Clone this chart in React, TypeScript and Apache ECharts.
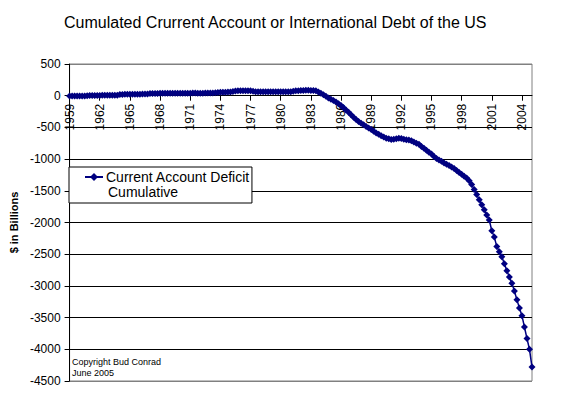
import React, { useEffect, useRef } from "react";
import * as echarts from "echarts";

// Quarterly categories, 1959 Q1 .. 2005 Q1
const years = [
  1959, 1960, 1961, 1962, 1963, 1964, 1965, 1966, 1967, 1968, 1969, 1970,
  1971, 1972, 1973, 1974, 1975, 1976, 1977, 1978, 1979, 1980, 1981, 1982,
  1983, 1984, 1985, 1986, 1987, 1988, 1989, 1990, 1991, 1992, 1993, 1994,
  1995, 1996, 1997, 1998, 1999, 2000, 2001, 2002, 2003, 2004, 2005,
];
const quartersPerYear = ["Q1", "Q2", "Q3", "Q4"];
const categories: string[] = [];
years.forEach((y) => {
  const qs = y === 2005 ? ["Q1"] : quartersPerYear;
  qs.forEach((q) => categories.push(`${y} ${q}`));
});

// Cumulative current account, $ billions
const cumulativeDeficit = [
  -6, -6, -5, -5, // 1959
  -4, -4, -3, -2, // 1960
  2, 3, 4, 5, // 1961
  5, 6, 6, 7, // 1962
  7, 8, 8, 9, // 1963
  18, 20, 21, 22, // 1964
  22, 23, 23, 24, // 1965
  24, 25, 25, 26, // 1966
  34, 35, 36, 36, // 1967
  37, 37, 38, 38, // 1968
  38, 38, 39, 39, // 1969
  39, 39, 40, 40, // 1970
  40, 41, 41, 40, // 1971
  40, 40, 41, 41, // 1972
  41, 42, 45, 50, // 1973
  53, 55, 56, 57, // 1974
  60, 68, 74, 78, // 1975
  79, 80, 79, 80, // 1976
  78, 70, 64, 62, // 1977
  62, 61, 61, 62, // 1978
  62, 62, 61, 62, // 1979
  62, 63, 62, 62, // 1980
  63, 72, 78, 80, // 1981
  82, 83, 84, 84, // 1982
  83, 82, 78, 60, // 1983
  40, 15, -10, -35, // 1984
  -55, -75, -100, -125, // 1985
  -155, -190, -225, -260, // 1986
  -300, -340, -375, -405, // 1987
  -435, -460, -485, -510, // 1988
  -535, -560, -590, -610, // 1989
  -630, -650, -670, -680, // 1990
  -690, -688, -680, -672, // 1991
  -675, -685, -695, -700, // 1992
  -710, -730, -750, -765, // 1993
  -800, -830, -860, -890, // 1994
  -920, -960, -990, -1014, // 1995
  -1035, -1060, -1080, -1100, // 1996
  -1125, -1150, -1180, -1210, // 1997
  -1240, -1270, -1300, -1340, // 1998
  -1400, -1480, -1560, -1640, // 1999
  -1720, -1800, -1880, -1960, // 2000
  -2130, -2230, -2380, -2460, // 2001
  -2540, -2650, -2760, -2860, // 2002
  -2960, -3080, -3220, -3350, // 2003
  -3470, -3650, -3830, -4000, // 2004
  -4280, // 2005
];

const yTicks = { min: -4500, max: 500, interval: 500 };
const seriesName = "Current Account Deficit Cumulative";
const titleText = "Cumulated Crurrent Account or International Debt of the US";
const yAxisName = "$ in Billions";
const copyrightLines = ["Copyright Bud Conrad", "June 2005"];

const FONT = "'Liberation Sans', Arial, sans-serif";

const GRID_TOP = 64;
const GRID_BOTTOM = 17;
const CHART_H = 398;

export default function App() {
  const ref = useRef<HTMLDivElement>(null);

  useEffect(() => {
    if (!ref.current) return;
    const chart = echarts.init(ref.current, undefined, { renderer: "svg" });
    const nLines = (yTicks.max - yTicks.min) / yTicks.interval + 1;
    const splitColors: string[] = [];
    for (let i = 0; i < nLines; i++) {
      splitColors.push(i === 0 || i === nLines - 1 ? "#808080" : "#000000");
    }
    // place the category axis on the zero line of the value axis
    const gridH = CHART_H - GRID_TOP - GRID_BOTTOM;
    const zeroOffset = -gridH * ((0 - yTicks.min) / (yTicks.max - yTicks.min));

    chart.setOption({
      animation: false,
      backgroundColor: "#ffffff",
      textStyle: { fontFamily: FONT },
      title: {
        text: titleText,
        left: 59,
        top: 9,
        textStyle: {
          fontFamily: FONT,
          fontSize: 16,
          fontWeight: "normal",
          color: "#000",
        },
      },
      grid: {
        left: 63,
        right: 38,
        top: GRID_TOP,
        bottom: GRID_BOTTOM,
        show: true,
        borderColor: "#808080",
        borderWidth: 1,
        backgroundColor: "#ffffff",
      },
      legend: {
        left: 69,
        top: 167,
        orient: "vertical",
        data: [seriesName],
        formatter: () => "Current Account Deficit",
        itemWidth: 18,
        itemHeight: 10,
        itemGap: 0,
        padding: [3, 2, 19, 15],
        backgroundColor: "#ffffff",
        borderColor: "#000000",
        borderWidth: 1,
        borderRadius: 0,
        textStyle: { fontFamily: FONT, fontSize: 14, color: "#000", padding: [0, 0, 0, -2] },
        z: 10,
      },
      graphic: [
        {
          type: "text",
          left: 108,
          top: 185,
          z: 100,
          style: { text: "Cumulative", fontFamily: FONT, fontSize: 14, fill: "#000" },
        },
        {
          type: "text",
          left: 72,
          top: 356,
          z: 100,
          style: {
            text: copyrightLines.join("\n"),
            fontFamily: FONT,
            fontSize: 9,
            lineHeight: 11,
            fill: "#000",
          },
        },
      ],
      xAxis: {
        type: "category",
        data: categories,
        boundaryGap: false,
        position: "bottom",
        offset: zeroOffset,
        axisLine: { show: true, onZero: false, lineStyle: { color: "#000", width: 1 } },
        axisTick: { show: true, interval: 11, length: 5, lineStyle: { color: "#000" } },
        axisLabel: {
          interval: 11,
          rotate: 90,
          margin: 8,
          fontSize: 12,
          color: "#000",
          fontFamily: FONT,
          formatter: (v: string) => v.slice(0, 4),
        },
        splitLine: { show: false },
        z: 5,
      },
      yAxis: {
        type: "value",
        min: yTicks.min,
        max: yTicks.max,
        interval: yTicks.interval,
        name: yAxisName,
        nameLocation: "middle",
        nameRotate: 90,
        nameGap: 48,
        nameTextStyle: { fontFamily: FONT, fontSize: 11, fontWeight: "bold", color: "#000" },
        axisLine: { show: true, lineStyle: { color: "#000", width: 1 } },
        axisTick: { show: true, length: 5, lineStyle: { color: "#000" } },
        axisLabel: {
          fontSize: 12,
          color: "#000",
          margin: 9,
          fontFamily: FONT,
          formatter: (v: number) => String(v),
        },
        splitLine: { show: true, lineStyle: { color: splitColors, width: 1 } },
      },
      series: [
        {
          name: seriesName,
          type: "line",
          data: cumulativeDeficit,
          symbol: "diamond",
          symbolSize: 7,
          showAllSymbol: true,
          lineStyle: { color: "#000080", width: 1.5 },
          itemStyle: { color: "#000080" },
          z: 6,
        },
      ],
    });
    return () => chart.dispose();
  }, []);

  return (
    <div
      ref={ref}
      style={{ position: "fixed", left: 0, top: 0, width: 570, height: 398 }}
    />
  );
}
